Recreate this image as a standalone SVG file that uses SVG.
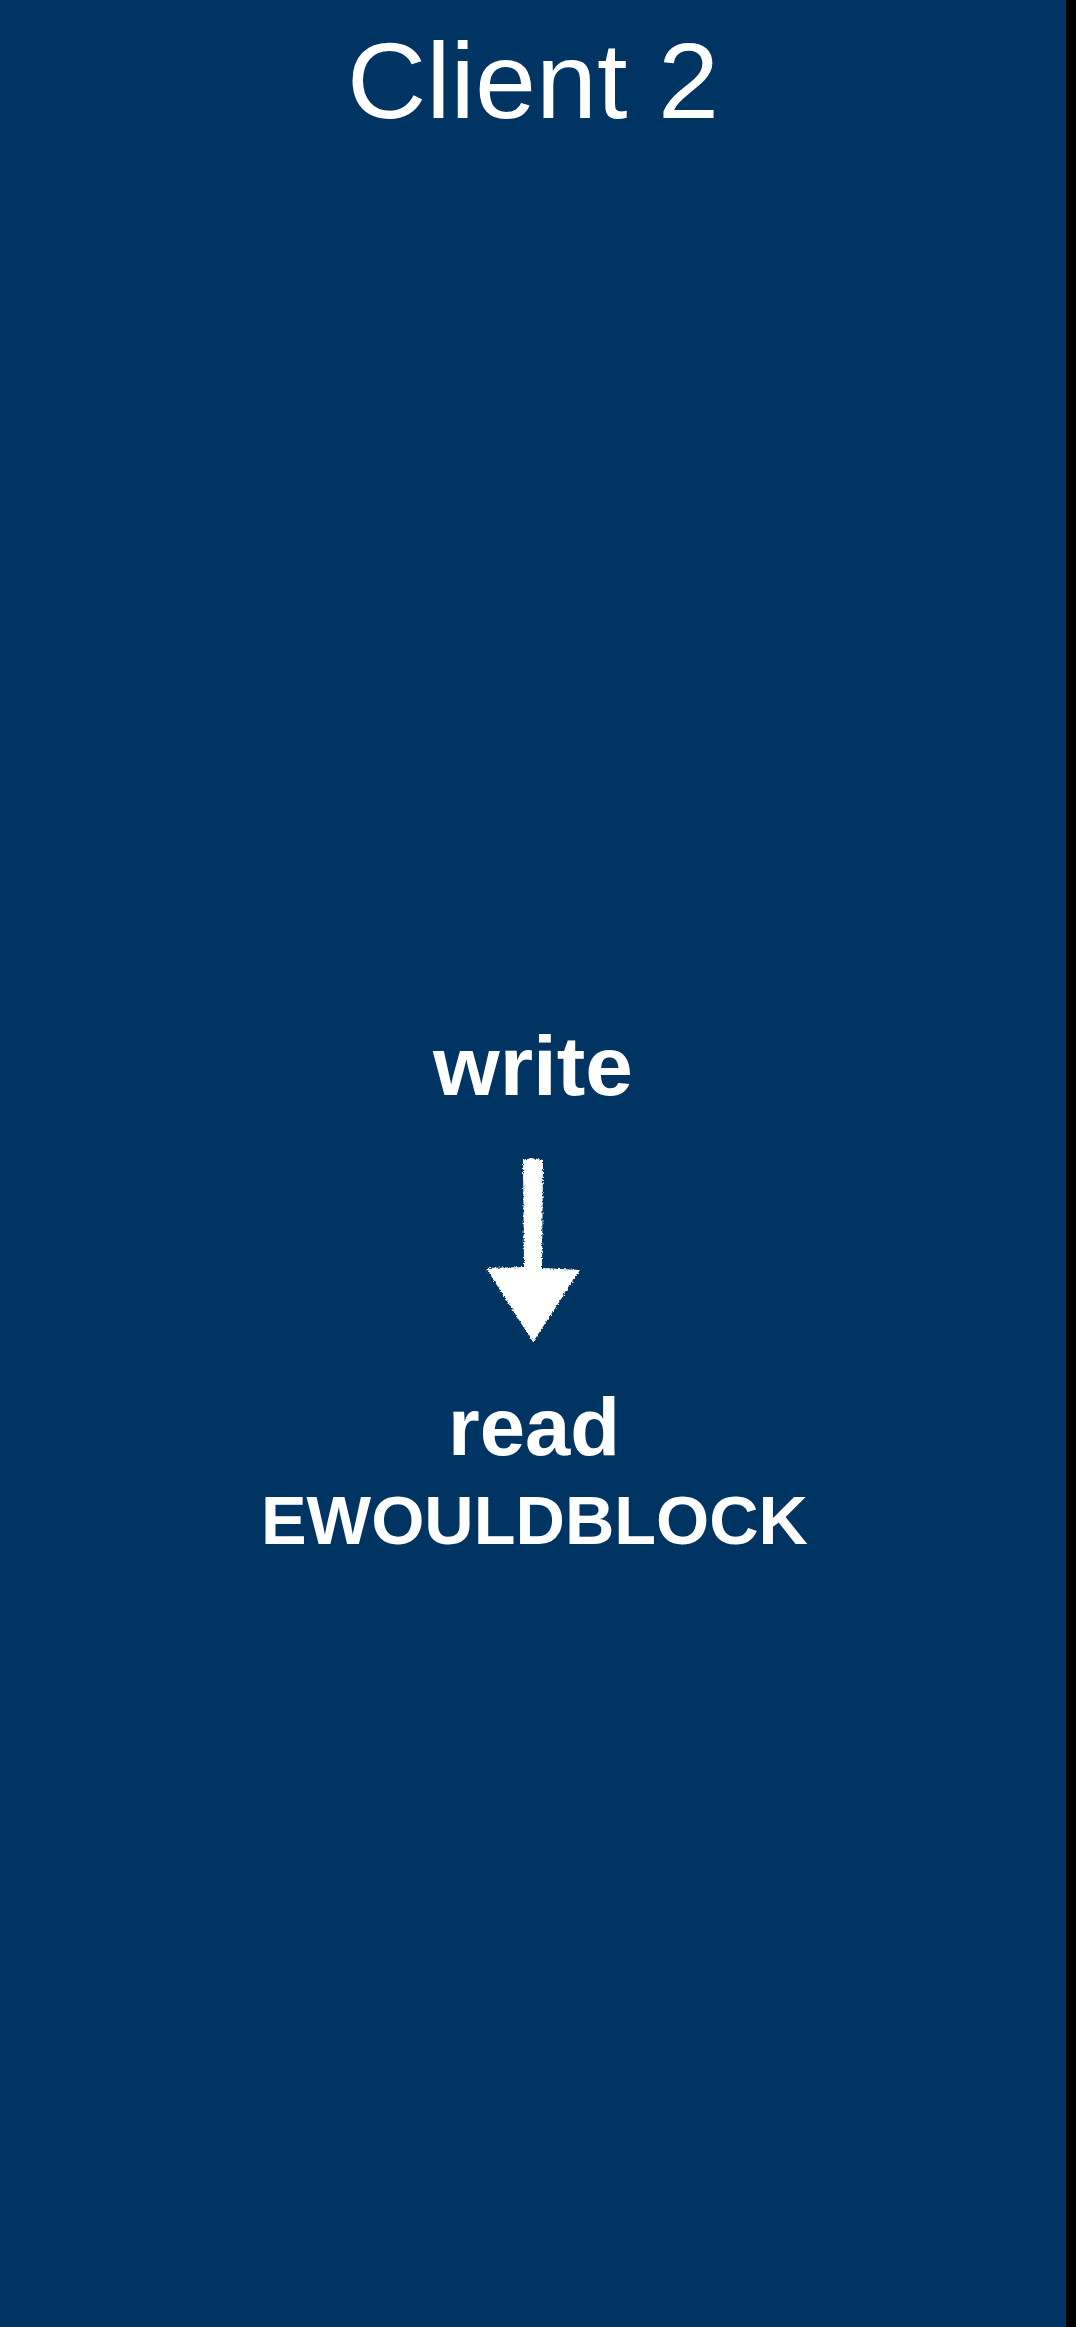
<svg xmlns="http://www.w3.org/2000/svg" width="1076" height="2327" viewBox="0 0 1076 2327">
<style>
.t{fill:#ffffff;font-family:"Liberation Sans",Arial,Helvetica,sans-serif;text-anchor:middle}
.b{font-weight:bold}
</style>
<defs>
<filter id="chalk" x="-20%" y="-10%" width="140%" height="120%">
<feTurbulence type="fractalNoise" baseFrequency="0.6" numOctaves="2" seed="3" result="n"/>
<feDisplacementMap in="SourceGraphic" in2="n" scale="4" xChannelSelector="R" yChannelSelector="G"/>
</filter>
</defs>
<rect x="0" y="0" width="1076" height="2327" fill="#000000"/>
<rect x="0" y="0" width="1066" height="2327" fill="#003462"/>
<g id="title"><text class="t" x="533" y="118" font-size="108" textLength="372" lengthAdjust="spacingAndGlyphs">Client 2</text></g>
<g id="write"><text class="t b" x="533" y="1095" font-size="84" textLength="200" lengthAdjust="spacingAndGlyphs">write</text></g>
<g id="connectors">
<path d="M523,1160 L531,1158 L543,1160 L542,1268 L580,1270 L533,1342 L486,1268 L524,1267 Z" fill="#ffffff" filter="url(#chalk)"/>
</g>
<g id="read"><text class="t b" x="534" y="1455" font-size="82" textLength="172" lengthAdjust="spacingAndGlyphs">read</text>
<text class="t b" x="534.5" y="1544" font-size="68.5" textLength="547" lengthAdjust="spacingAndGlyphs">EWOULDBLOCK</text></g>
</svg>
